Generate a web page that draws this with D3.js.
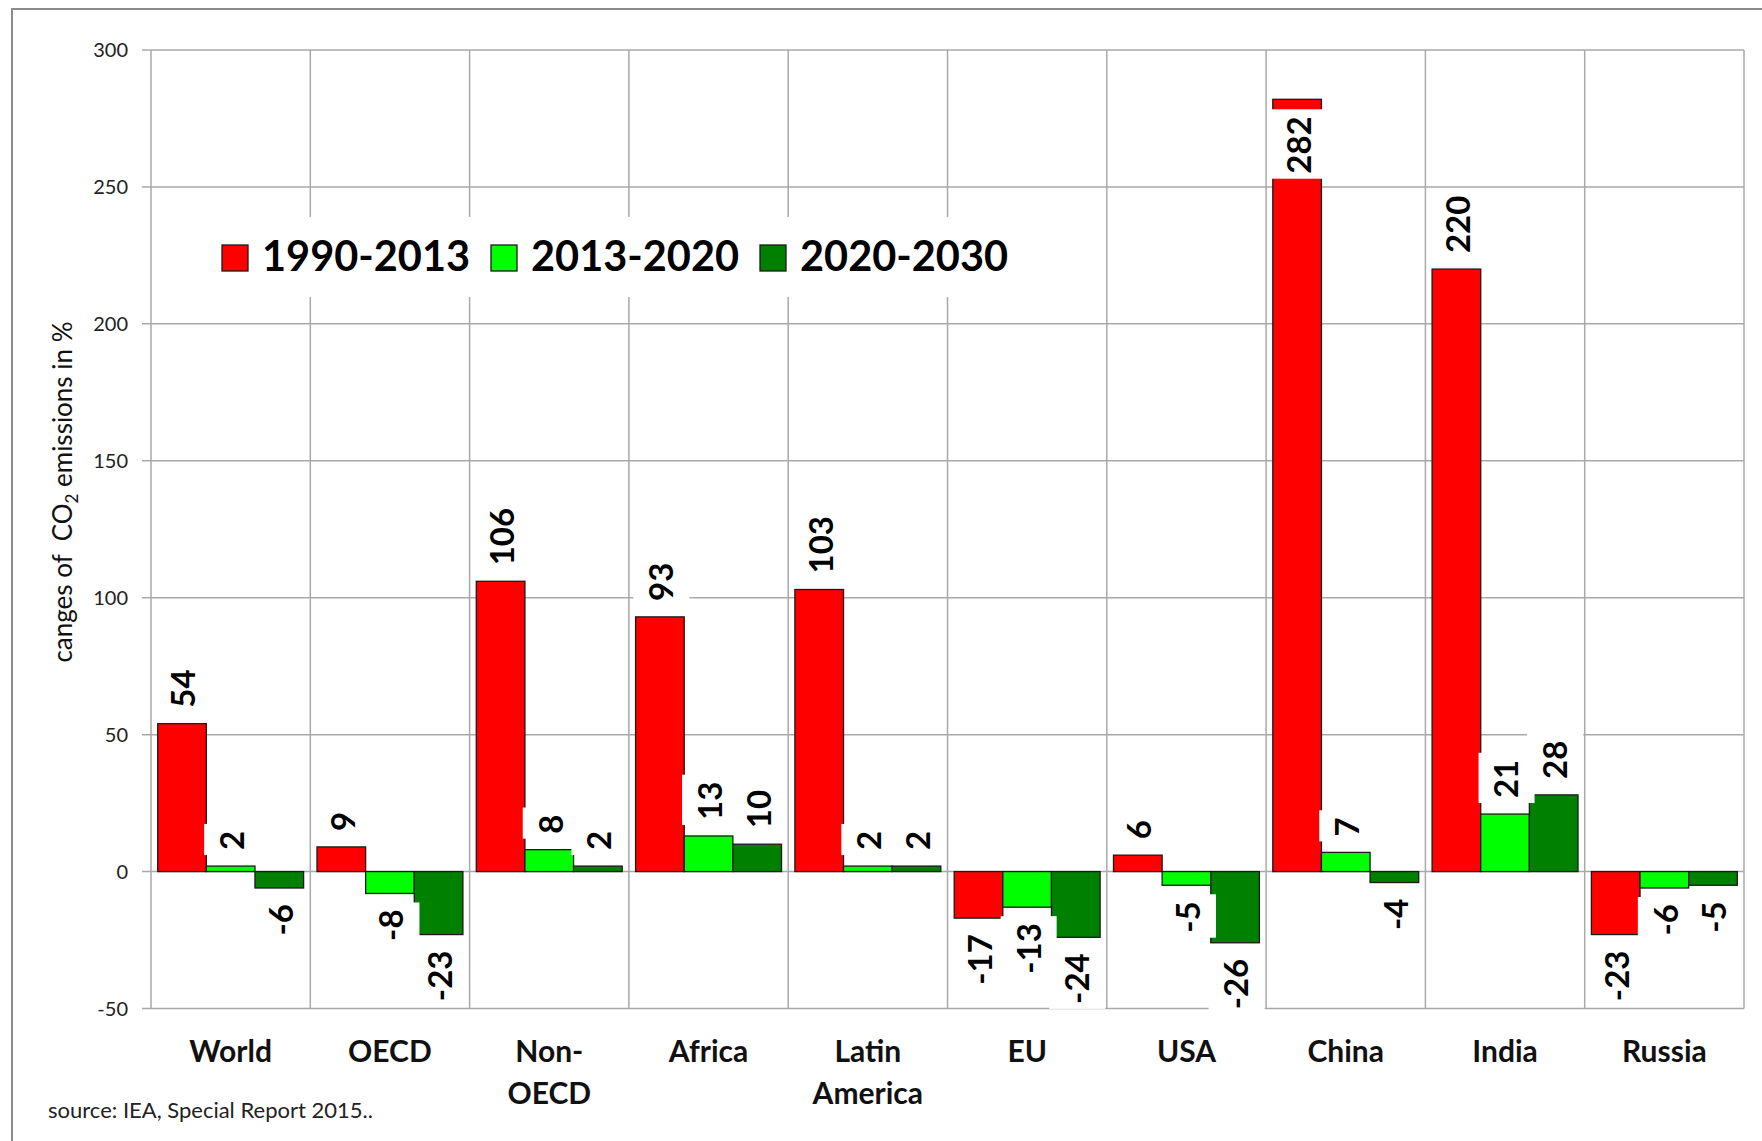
<!DOCTYPE html>
<html>
<head>
<meta charset="utf-8">
<script src="https://cdn.jsdelivr.net/npm/d3@7"></script>
<style>
  html, body { margin: 0; padding: 0; background: #fff; }
  svg { display: block; font-family: Lato, "Open Sans", sans-serif; }
  .keep-spaces { white-space: pre; }
</style>
</head>
<body>
<svg id="chart" width="1762" height="1141"></svg>
<script>
// Regions and their CO2 emission changes (%) for three periods
const categories = ["World", "OECD", "Non-OECD", "Africa", "Latin America", "EU", "USA", "China", "India", "Russia"];
const categoryLines = [["World"], ["OECD"], ["Non-", "OECD"], ["Africa"], ["Latin", "America"], ["EU"], ["USA"], ["China"], ["India"], ["Russia"]];
const seriesNames = ["1990-2013", "2013-2020", "2020-2030"];
const seriesColors = ["#ff0000", "#00ff00", "#008000"];
const values1990_2013 = [54, 9, 106, 93, 103, -17, 6, 282, 220, -23];
const values2013_2020 = [2, -8, 8, 13, 2, -13, -5, 7, 21, -6];
const values2020_2030 = [-6, -23, 2, 10, 2, -24, -26, -4, 28, -5];
const yTicks = [-50, 0, 50, 100, 150, 200, 250, 300];
const yTitle = "canges of  CO";
const sourceNote = "source: IEA, Special Report 2015..";

const seriesValues = [values1990_2013, values2013_2020, values2020_2030];

const svg = d3.select("#chart");
const plot = { left: 151, right: 1744, top: 50, bottom: 1008.5 };
const gridColor = "#a9a9a9";

// outer frame
svg.append("rect")
  .attr("x", 12).attr("y", 9).attr("width", 1800).attr("height", 1200)
  .attr("fill", "#fff").attr("stroke", "#8c8c8c").attr("stroke-width", 2);

const y = d3.scaleLinear().domain([-50, 300]).range([plot.bottom, plot.top]);
const x0 = d3.scaleBand().domain(categories).range([plot.left, plot.right])
  .paddingInner(0.084).paddingOuter(0.042);
const x1 = d3.scaleBand().domain(seriesNames).range([0, x0.bandwidth()]);

// horizontal gridlines with short tick stubs left of the axis
svg.append("g").selectAll("line").data(yTicks).join("line")
  .attr("x1", plot.left - 9).attr("x2", plot.right)
  .attr("y1", d => y(d)).attr("y2", d => y(d))
  .attr("stroke", gridColor).attr("stroke-width", 1.5);

// vertical gridlines at category boundaries
const half = x0.step() * x0.paddingInner() / 2;
const bounds = categories.map(c => x0(c) - half).concat([plot.right]);
svg.append("g").selectAll("line").data(bounds).join("line")
  .attr("x1", d => d).attr("x2", d => d)
  .attr("y1", plot.top).attr("y2", plot.bottom)
  .attr("stroke", gridColor).attr("stroke-width", 1.5);

// y tick labels
svg.append("g").selectAll("text").data(yTicks).join("text")
  .attr("x", 128).attr("y", d => y(d)).attr("dy", "0.36em")
  .attr("text-anchor", "end").attr("font-size", 20).attr("fill", "#222")
  .text(d => d);

// y axis title
const yt = svg.append("text").attr("class", "keep-spaces")
  .attr("transform", "translate(72,492) rotate(-90)")
  .attr("text-anchor", "middle").attr("font-size", 26).attr("fill", "#111");
yt.append("tspan").text(yTitle);
yt.append("tspan").attr("font-size", 17).attr("dy", 6).text("2");
yt.append("tspan").attr("dy", -6).text(" emissions in %");

// bars
const rows = [];
categories.forEach((c, i) => {
  seriesNames.forEach((s, j) => {
    rows.push({ cat: c, series: s, color: seriesColors[j], value: seriesValues[j][i] });
  });
});

svg.append("g").selectAll("rect").data(rows).join("rect")
  .attr("x", d => x0(d.cat) + x1(d.series))
  .attr("width", x1.bandwidth())
  .attr("y", d => y(Math.max(0, d.value)))
  .attr("height", d => Math.abs(y(d.value) - y(0)))
  .attr("fill", d => d.color)
  .attr("stroke", "#1a1a1a").attr("stroke-width", 1.3);

// value labels, rotated, each on a white box
const labelSize = 33;
const labels = svg.append("g");
rows.forEach(d => {
  const cx = x0(d.cat) + x1(d.series) + x1.bandwidth() / 2 + 1.5;
  const t = labels.append("text")
    .attr("font-size", labelSize).attr("font-weight", 700).attr("fill", "#000")
    .attr("text-anchor", "start").attr("dy", "0.36em")
    .text(d.value);
  const len = t.node().getComputedTextLength();
  let top, bottom;
  if (d.value >= 0) {
    bottom = y(d.value) - 16;
    top = bottom - len;
    if (top < plot.top) { top = y(d.value) + 17; bottom = top + len; }
  } else {
    top = y(d.value) + 16;
    bottom = top + len;
  }
  t.attr("transform", `translate(${cx},${bottom}) rotate(-90)`);
  labels.insert("rect", () => t.node())
    .attr("x", cx - 28).attr("width", 56)
    .attr("y", top - 7).attr("height", len + 12)
    .attr("fill", "#fff");
});

// category labels
const catG = svg.append("g");
categories.forEach((c, i) => {
  const cx = x0(c) + x0.bandwidth() / 2;
  categoryLines[i].forEach((line, k) => {
    catG.append("text")
      .attr("x", cx).attr("y", 1062 + k * 42)
      .attr("text-anchor", "middle").attr("font-size", 30).attr("font-weight", 700)
      .attr("fill", "#111").text(line);
  });
});

// legend
const legend = svg.append("g");
legend.append("rect").attr("x", 205).attr("y", 217).attr("width", 815).attr("height", 80).attr("fill", "#fff");
seriesNames.forEach((s, j) => {
  const lx = 222 + j * 269;
  legend.append("rect").attr("x", lx).attr("y", 245).attr("width", 26).attr("height", 26)
    .attr("fill", seriesColors[j]).attr("stroke", "#1a1a1a").attr("stroke-width", 1.3);
  legend.append("text").attr("x", lx + 40).attr("y", 271)
    .attr("font-size", 41.5).attr("font-weight", 700).attr("fill", "#000").text(s);
});

// source note
svg.append("text").attr("x", 48).attr("y", 1118)
  .attr("font-size", 22).attr("fill", "#222").text(sourceNote);
</script>
</body>
</html>
